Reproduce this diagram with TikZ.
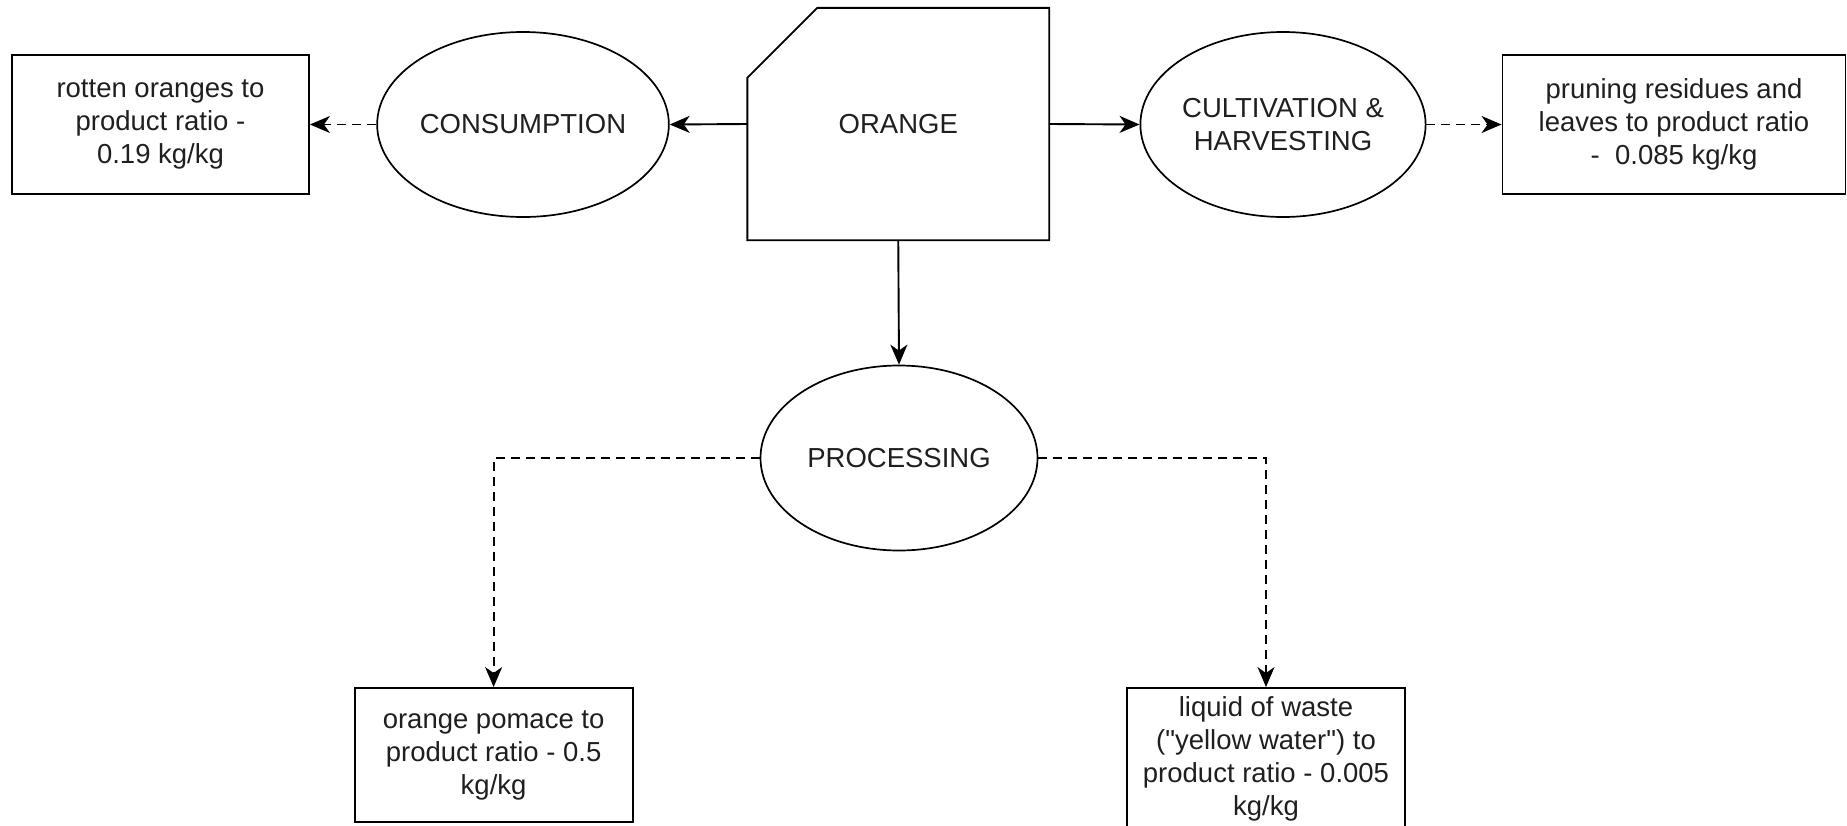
\documentclass[tikz,border=0pt]{standalone}
\usepackage{fontspec}
\setmainfont{Liberation Sans}[Ligatures=TeXOff]
\usetikzlibrary{shapes.geometric,arrows.meta}

\tikzset{
  base/.style={font=\fontsize{27.5}{33}\selectfont, text=black!88, align=center, inner sep=0pt},
  wastebox/.style={base, draw, line width=1.9pt, rectangle},
  stage/.style={base, draw, line width=1.7pt, ellipse, minimum width=278pt, minimum height=185pt},
  flow/.style={line width=1.9pt, -{Stealth[length=20pt, width=17pt, inset=6pt]}},
  waste/.style={flow, dash pattern=on 9pt off 6pt},
  outline/.style={line width=1.9pt, line join=miter}
}

\begin{document}
\begin{tikzpicture}[x=1pt, y=-1pt]
  \useasboundingbox (0,0) rectangle (1847,825);

  % product box with its chamfered corner
  \node[base, minimum width=301.5pt, minimum height=232pt] (orange) at (898.25,124) {ORANGE};
  \draw[outline] ([yshift=-70pt]orange.north west) -- ([xshift=70pt]orange.north west)
    -- (orange.north east) -- (orange.south east) -- (orange.south west) -- cycle;

  % life-cycle stages
  \node[stage] (cons) at (523,124.5) {CONSUMPTION};
  \node[stage] (cult) at (1283,124.5) {CULTIVATION \&\\HARVESTING};
  \node[stage, minimum width=277pt] (proc) at (899,458) {PROCESSING};

  % waste streams
  \node[wastebox, minimum width=297pt, minimum height=139pt] (rotten) at (160.5,124.5)
    {rotten oranges to\\product ratio -\\0.19 kg/kg};
  \node[wastebox, minimum width=343pt, minimum height=139pt] (prun) at (1674,124.5)
    {pruning residues and\\leaves to product ratio\\-\ \ 0.085 kg/kg};
  \node[wastebox, minimum width=278pt, minimum height=134pt] (pomace) at (493.6,755)
    {orange pomace to\\product ratio - 0.5\\kg/kg};
  \node[wastebox, minimum width=278pt, minimum height=142pt] (liquid) at (1266,759)
    {liquid of waste\\("yellow water") to\\product ratio - 0.005\\kg/kg};

  % main flows
  \draw[flow] (orange.west) -- (cons.east);
  \draw[flow] (orange.east) -- (cult.west);
  \draw[flow] (orange.south) -- (proc.north);

  % waste flows
  \draw[waste] (cons.west) -- (rotten.east);
  \draw[waste] (cult.east) -- (prun.west);
  \draw[waste] (proc.west) -| (pomace.north);
  \draw[waste] (proc.east) -| (liquid.north);
\end{tikzpicture}
\end{document}
